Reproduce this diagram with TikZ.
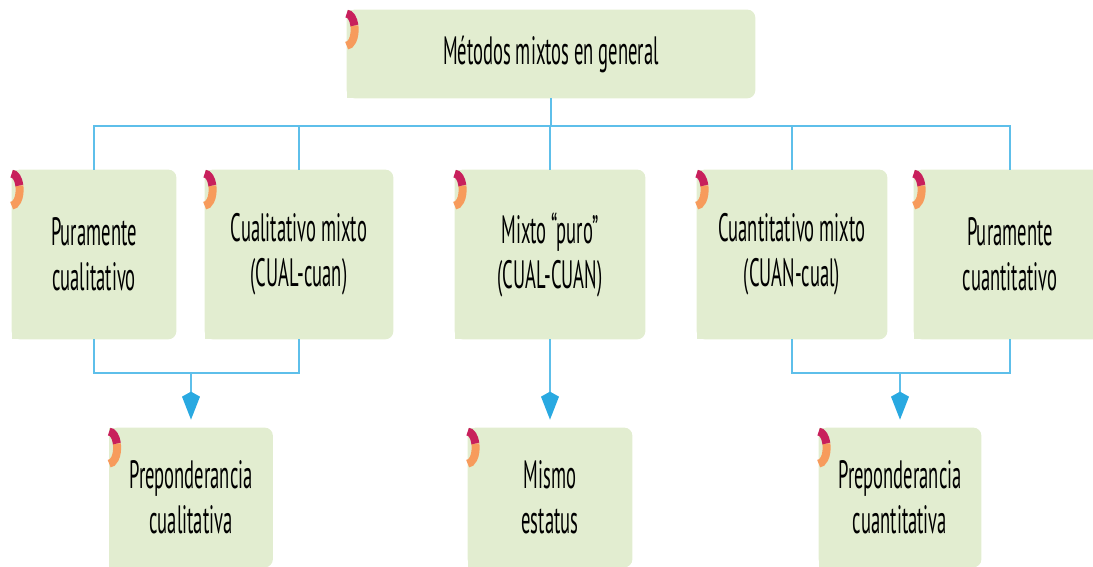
\documentclass[tikz,border=0pt]{standalone}
\usepackage{fontspec}
\newfontfamily\boxfont[FakeStretch=0.47]{PT Sans}
\usetikzlibrary{arrows.meta,backgrounds}
\definecolor{boxgreen}{HTML}{E2EDD0}
\definecolor{linkblue}{HTML}{5EBFEA}
\definecolor{tipblue}{HTML}{29A9E1}
\definecolor{ringred}{HTML}{C8205C}
\definecolor{ringorange}{HTML}{F79B5C}
\tikzstyle{box}=[inner sep=0pt,align=center,text=black,font=\boxfont\fontsize{22.5}{25.6}\selectfont]
\tikzstyle{link}=[draw=linkblue,line width=1.2pt]
\tikzstyle{to}=[link,-{Kite[length=0.56cm,width=0.36cm,inset=0.1cm,color=tipblue,fill=tipblue]},shorten >=0.16cm]

\begin{document}
\begin{tikzpicture}[x=0.02cm,y=0.02cm]

\useasboundingbox (0,0) rectangle (1093,567);

%%% Top box

\node[box,minimum width=8.16cm,minimum height=1.76cm] (general) at (551,513)
{Métodos mixtos en general};

%%% Middle row

\node[box,minimum width=3.28cm,minimum height=3.38cm] (pcual) at (94,312.5)
{Puramente\\cualitativo};

\node[box,minimum width=3.76cm,minimum height=3.38cm] (cualmix) at (299,312.5)
{Cualitativo mixto\\(CUAL-cuan)};

\node[box,minimum width=3.8cm,minimum height=3.38cm] (puro) at (550,312.5)
{Mixto “puro”\\(CUAL-CUAN)};

\node[box,minimum width=3.8cm,minimum height=3.38cm] (cuanmix) at (792,312.5)
{Cuantitativo mixto\\(CUAN-cual)};

\node[box,minimum width=3.84cm,minimum height=3.38cm] (pcuan) at (1010,312.5)
{Puramente\\cuantitativo};

%%% Bottom row

\node[box,minimum width=3.26cm,minimum height=2.78cm] (precual) at (191,69.5)
{Preponderancia\\cualitativa};

\node[box,minimum width=3.28cm,minimum height=2.78cm] (mismo) at (550,69.5)
{Mismo\\estatus};

\node[box,minimum width=3.24cm,minimum height=2.78cm] (precuan) at (900,69.5)
{Preponderancia\\cuantitativa};

%%% Box backgrounds and corner rings

\begin{scope}[on background layer]
\foreach \n in {general,pcual,cualmix,puro,cuanmix,pcuan,precual,mismo,precuan}{
\fill[boxgreen,rounded corners=0.16cm] (\n.south west) rectangle (\n.north east);
\fill[boxgreen] (\n.south west) rectangle (\n.north);
\draw[ringorange,line width=0.16cm] ([yshift=-0.4cm]\n.north west) ++(15:0.16cm and 0.32cm)
arc[start angle=15,end angle=-90,x radius=0.16cm,y radius=0.32cm];
\draw[ringred,line width=0.16cm] ([yshift=-0.4cm]\n.north west) ++(90:0.16cm and 0.32cm)
arc[start angle=90,end angle=15,x radius=0.16cm,y radius=0.32cm];
}
\end{scope}

%%% Upper connectors

\coordinate (bus) at (551,441);

\draw[link] (general.south) -- (bus);
\draw[link] (pcual.north) |- (bus) -| (pcuan.north);

\foreach \n in {cualmix,puro,cuanmix}
\draw[link] (\n.north) -- (\n.north |- bus);

%%% Lower connectors

\coordinate (joinL) at (191,194);
\coordinate (joinR) at (900,194);

\draw[link] (pcual.south) |- (joinL) -| (cualmix.south);
\draw[to] (joinL) -- (precual.north);

\draw[to] (puro.south) -- (mismo.north);

\draw[link] (cuanmix.south) |- (joinR) -| (pcuan.south);
\draw[to] (joinR) -- (precuan.north);

\end{tikzpicture}
\end{document}
